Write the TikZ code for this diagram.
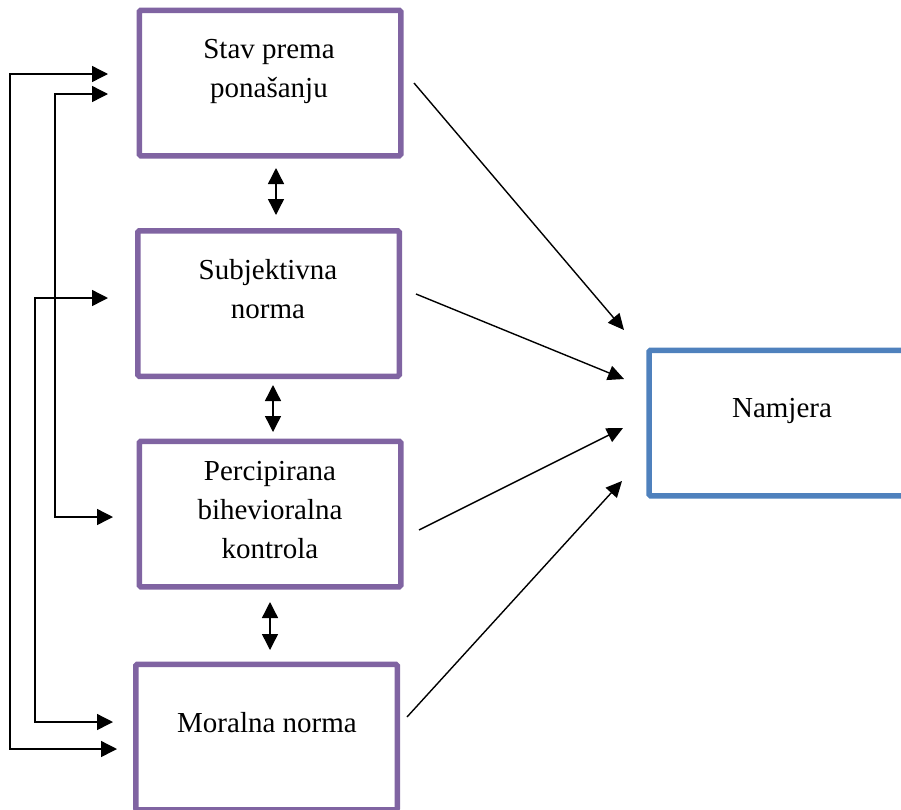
\documentclass[tikz,border=0pt]{standalone}
\usepackage{fontspec}
\setmainfont{Liberation Serif}
\usetikzlibrary{arrows.meta}
\definecolor{boxpurple}{HTML}{8064A2}
\definecolor{boxblue}{HTML}{4F81BD}
\begin{document}
\begin{tikzpicture}[x=1pt,y=-1pt,
  pbox/.style={draw=boxpurple,line width=5.5pt,rounded corners=1.5pt,minimum width=261.5pt,minimum height=145.5pt,inner sep=0pt},
  bbox/.style={draw=boxblue,line width=5.5pt,rounded corners=1.5pt,minimum width=262pt,minimum height=145.5pt,inner sep=0pt},
  lbl/.style={font=\fontsize{29}{39}\selectfont,align=center,anchor=base,inner sep=0pt},
  conn/.style={line width=1.4pt,-{Triangle[length=16pt,width=15pt]}},
  dconn/.style={line width=1.4pt,{Triangle[length=16pt,width=16pt]}-{Triangle[length=16pt,width=16pt]}},
  fconn/.style={line width=1.4pt,{Triangle[length=16pt,width=16pt]}-{Triangle[length=16pt,width=16pt]}}]
\useasboundingbox (0,0) rectangle (901,809);
\node[pbox] (b1) at (270,83) {};
\node[pbox] (b2) at (268.5,303.5) {};
\node[pbox] (b3) at (270,514) {};
\node[pbox] (b4) at (266.5,737) {};
\node[bbox] (nj) at (780,423) {};
\node[lbl] (t1) at (269,97) {Stav prema\\ponašanju};
\node[lbl] (t2) at (268,318) {Subjektivna\\norma};
\node[lbl] (t3) at (270,558) {Percipirana\\bihevioralna\\kontrola};
\node[lbl] (t4) at (267,732) {Moralna norma};
\node[lbl] (t5) at (782,417) {Namjera};
% diagonal connectors
\coordinate (s1) at (414,83);  \coordinate (e1) at (624,330);
\coordinate (s2) at (416,294); \coordinate (e2) at (624,379);
\coordinate (s3) at (419,530); \coordinate (e3) at (623,428);
\coordinate (s4) at (407,717); \coordinate (e4) at (622,481);
\draw[conn] (s1) -- (e1);
\draw[conn] (s2) -- (e2);
\draw[conn] (s3) -- (e3);
\draw[conn] (s4) -- (e4);
% double arrows
\coordinate (d1a) at (276,168); \coordinate (d1b) at (276,215);
\coordinate (d2a) at (273,385); \coordinate (d2b) at (273,432);
\coordinate (d3a) at (270,602); \coordinate (d3b) at (270,650);
\draw[dconn] (d1a) -- (d1b);
\draw[dconn] (d2a) -- (d2b);
\draw[dconn] (d3a) -- (d3b);
% left feedback lines
\coordinate (fa1) at (108,74);  \coordinate (fa2) at (117,749);
\coordinate (fb1) at (108,94);  \coordinate (fb2) at (113,517);
\coordinate (fc1) at (108,298); \coordinate (fc2) at (113,722);
\draw[fconn] (fa1) -- (10,74) -- (10,749) -- (fa2);
\draw[fconn] (fb1) -- (55,94) -- (55,517) -- (fb2);
\draw[fconn] (fc1) -- (35,298) -- (35,722) -- (fc2);
\end{tikzpicture}
\end{document}
